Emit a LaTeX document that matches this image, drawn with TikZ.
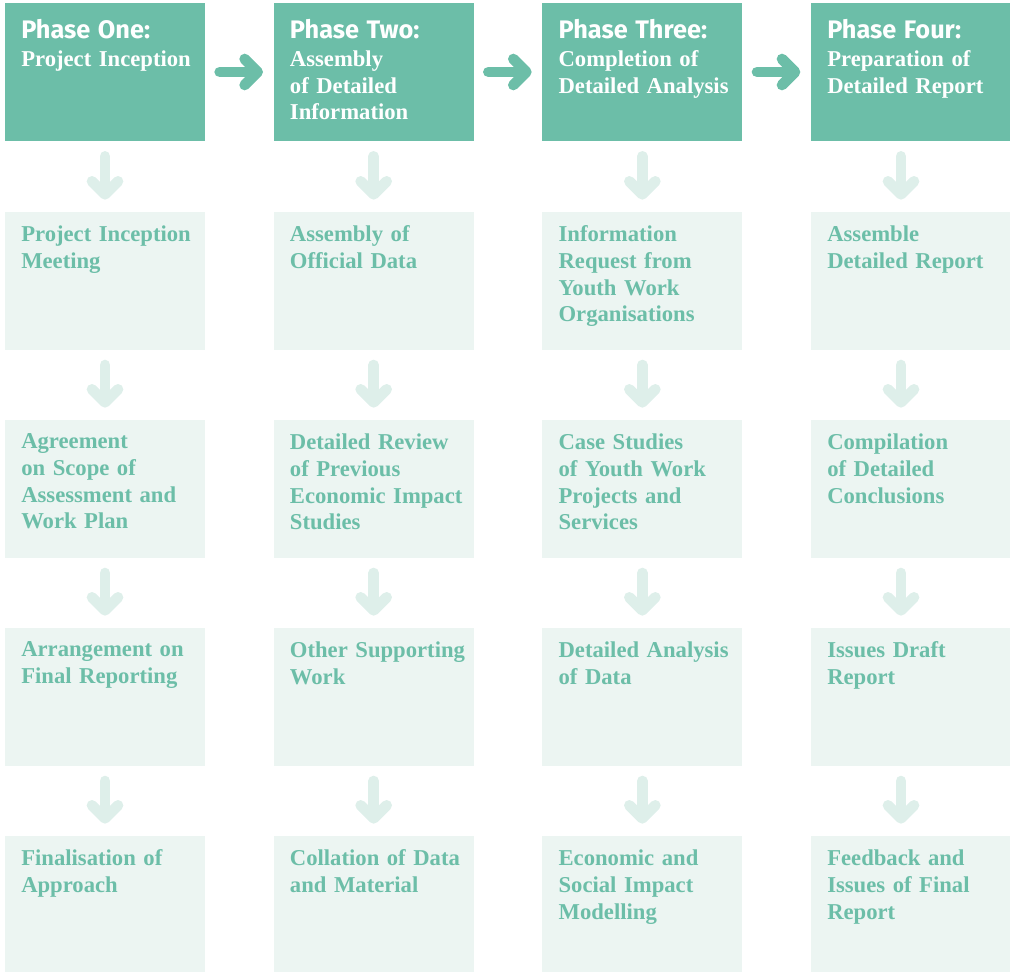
\documentclass[tikz,border=0pt]{standalone}
\usepackage{fontspec}
\usepackage{xcolor}
\usepackage{tikz}
\usetikzlibrary{arrows.meta, positioning}
\newfontfamily\slabfont{Liberation Serif}
\newfontfamily\headfont{Fira Sans}
\definecolor{phasegreen}{RGB}{108,190,168}
\definecolor{steplight}{RGB}{236,245,242}
\definecolor{arrowlight}{RGB}{222,239,234}

\begin{document}
\begin{tikzpicture}[
    phase/.style={rectangle, fill=phasegreen, minimum width=150pt, minimum height=103.5pt, inner sep=0pt, outer sep=0pt},
    stepbox/.style={rectangle, fill=steplight, minimum width=150pt, minimum height=103.5pt, inner sep=0pt, outer sep=0pt},
    phasetext/.style={inner sep=0pt, text width=145pt, align=left, text=white, font=\slabfont\bfseries\fontsize{17}{20}\selectfont},
    steptext/.style={inner sep=0pt, text width=145pt, align=left, text=phasegreen, font=\slabfont\bfseries\fontsize{17}{20}\selectfont},
    flow/.style={line width=8pt, line cap=round, phasegreen, -{Straight Barb[round, length=9.75pt, width=19.5pt]}, shorten <=11pt, shorten >=8pt},
    down/.style={line width=8pt, line cap=round, arrowlight, -{Straight Barb[round, length=9.75pt, width=19.5pt]}, shorten <=11.5pt, shorten >=9pt}
]
\useasboundingbox (0,0) rectangle (757.5pt,-728.25pt);
\newcommand{\phasehead}[1]{{\headfont\fontsize{19}{21}\selectfont #1}\\[1pt]}

% phase headers
\node[phase, anchor=north west] (ph1) at (3.75pt,-2.25pt) {};
\node[phase, right=51.5pt of ph1] (ph2) {};
\node[phase, right=51.5pt of ph2] (ph3) {};
\node[phase, right=51.5pt of ph3] (ph4) {};

\node[phasetext, below right=12pt and 12pt of ph1.north west] (ph1-t) {\phasehead{Phase One:}Project Inception};
\node[phasetext, below right=12pt and 12pt of ph2.north west] (ph2-t) {\phasehead{Phase Two:}Assembly\\of Detailed\\Information};
\node[phasetext, below right=12pt and 12pt of ph3.north west] (ph3-t) {\phasehead{Phase Three:}Completion of\\Detailed Analysis};
\node[phasetext, below right=12pt and 12pt of ph4.north west] (ph4-t) {\phasehead{Phase Four:}Preparation of\\Detailed Report};

% steps, column by column
\node[stepbox, below=53pt of ph1] (ph1a) {};
\node[stepbox, below=52.5pt of ph1a] (ph1b) {};
\node[stepbox, below=52.5pt of ph1b] (ph1c) {};
\node[stepbox, below=52.5pt of ph1c] (ph1d) {};
\node[stepbox, below=53pt of ph2] (ph2a) {};
\node[stepbox, below=52.5pt of ph2a] (ph2b) {};
\node[stepbox, below=52.5pt of ph2b] (ph2c) {};
\node[stepbox, below=52.5pt of ph2c] (ph2d) {};
\node[stepbox, below=53pt of ph3] (ph3a) {};
\node[stepbox, below=52.5pt of ph3a] (ph3b) {};
\node[stepbox, below=52.5pt of ph3b] (ph3c) {};
\node[stepbox, below=52.5pt of ph3c] (ph3d) {};
\node[stepbox, below=53pt of ph4] (ph4a) {};
\node[stepbox, below=52.5pt of ph4a] (ph4b) {};
\node[stepbox, below=52.5pt of ph4b] (ph4c) {};
\node[stepbox, below=52.5pt of ph4c] (ph4d) {};

\node[steptext, below right=10.5pt and 12pt of ph1a.north west] (ph1a-t) {Project Inception\\Meeting};
\node[steptext, below right=10.5pt and 12pt of ph1b.north west] (ph1b-t) {Agreement\\on Scope of\\Assessment and\\Work Plan};
\node[steptext, below right=10.5pt and 12pt of ph1c.north west] (ph1c-t) {Arrangement on\\Final Reporting};
\node[steptext, below right=10.5pt and 12pt of ph1d.north west] (ph1d-t) {Finalisation of\\Approach};
\node[steptext, below right=10.5pt and 12pt of ph2a.north west] (ph2a-t) {Assembly of\\Official Data};
\node[steptext, below right=10.5pt and 12pt of ph2b.north west] (ph2b-t) {Detailed Review\\of Previous\\Economic Impact\\Studies};
\node[steptext, below right=10.5pt and 12pt of ph2c.north west] (ph2c-t) {Other Supporting\\Work};
\node[steptext, below right=10.5pt and 12pt of ph2d.north west] (ph2d-t) {Collation of Data\\and Material};
\node[steptext, below right=10.5pt and 12pt of ph3a.north west] (ph3a-t) {Information\\Request from\\Youth Work\\Organisations};
\node[steptext, below right=10.5pt and 12pt of ph3b.north west] (ph3b-t) {Case Studies\\of Youth Work\\Projects and\\Services};
\node[steptext, below right=10.5pt and 12pt of ph3c.north west] (ph3c-t) {Detailed Analysis\\of Data};
\node[steptext, below right=10.5pt and 12pt of ph3d.north west] (ph3d-t) {Economic and\\Social Impact\\Modelling};
\node[steptext, below right=10.5pt and 12pt of ph4a.north west] (ph4a-t) {Assemble\\Detailed Report};
\node[steptext, below right=10.5pt and 12pt of ph4b.north west] (ph4b-t) {Compilation\\of Detailed\\Conclusions};
\node[steptext, below right=10.5pt and 12pt of ph4c.north west] (ph4c-t) {Issues Draft\\Report};
\node[steptext, below right=10.5pt and 12pt of ph4d.north west] (ph4d-t) {Feedback and\\Issues of Final\\Report};

\draw[flow] (ph1) -- (ph2);
\draw[flow] (ph2) -- (ph3);
\draw[flow] (ph3) -- (ph4);

\draw[down] (ph1) -- (ph1a);
\draw[down] (ph1a) -- (ph1b);
\draw[down] (ph1b) -- (ph1c);
\draw[down] (ph1c) -- (ph1d);
\draw[down] (ph2) -- (ph2a);
\draw[down] (ph2a) -- (ph2b);
\draw[down] (ph2b) -- (ph2c);
\draw[down] (ph2c) -- (ph2d);
\draw[down] (ph3) -- (ph3a);
\draw[down] (ph3a) -- (ph3b);
\draw[down] (ph3b) -- (ph3c);
\draw[down] (ph3c) -- (ph3d);
% last column arrows sit a little left of centre
\draw[down] ([xshift=-7.5pt]ph4.south) -- ([xshift=-7.5pt]ph4a.north);
\draw[down] ([xshift=-7.5pt]ph4a.south) -- ([xshift=-7.5pt]ph4b.north);
\draw[down] ([xshift=-7.5pt]ph4b.south) -- ([xshift=-7.5pt]ph4c.north);
\draw[down] ([xshift=-7.5pt]ph4c.south) -- ([xshift=-7.5pt]ph4d.north);
\end{tikzpicture}
\end{document}
